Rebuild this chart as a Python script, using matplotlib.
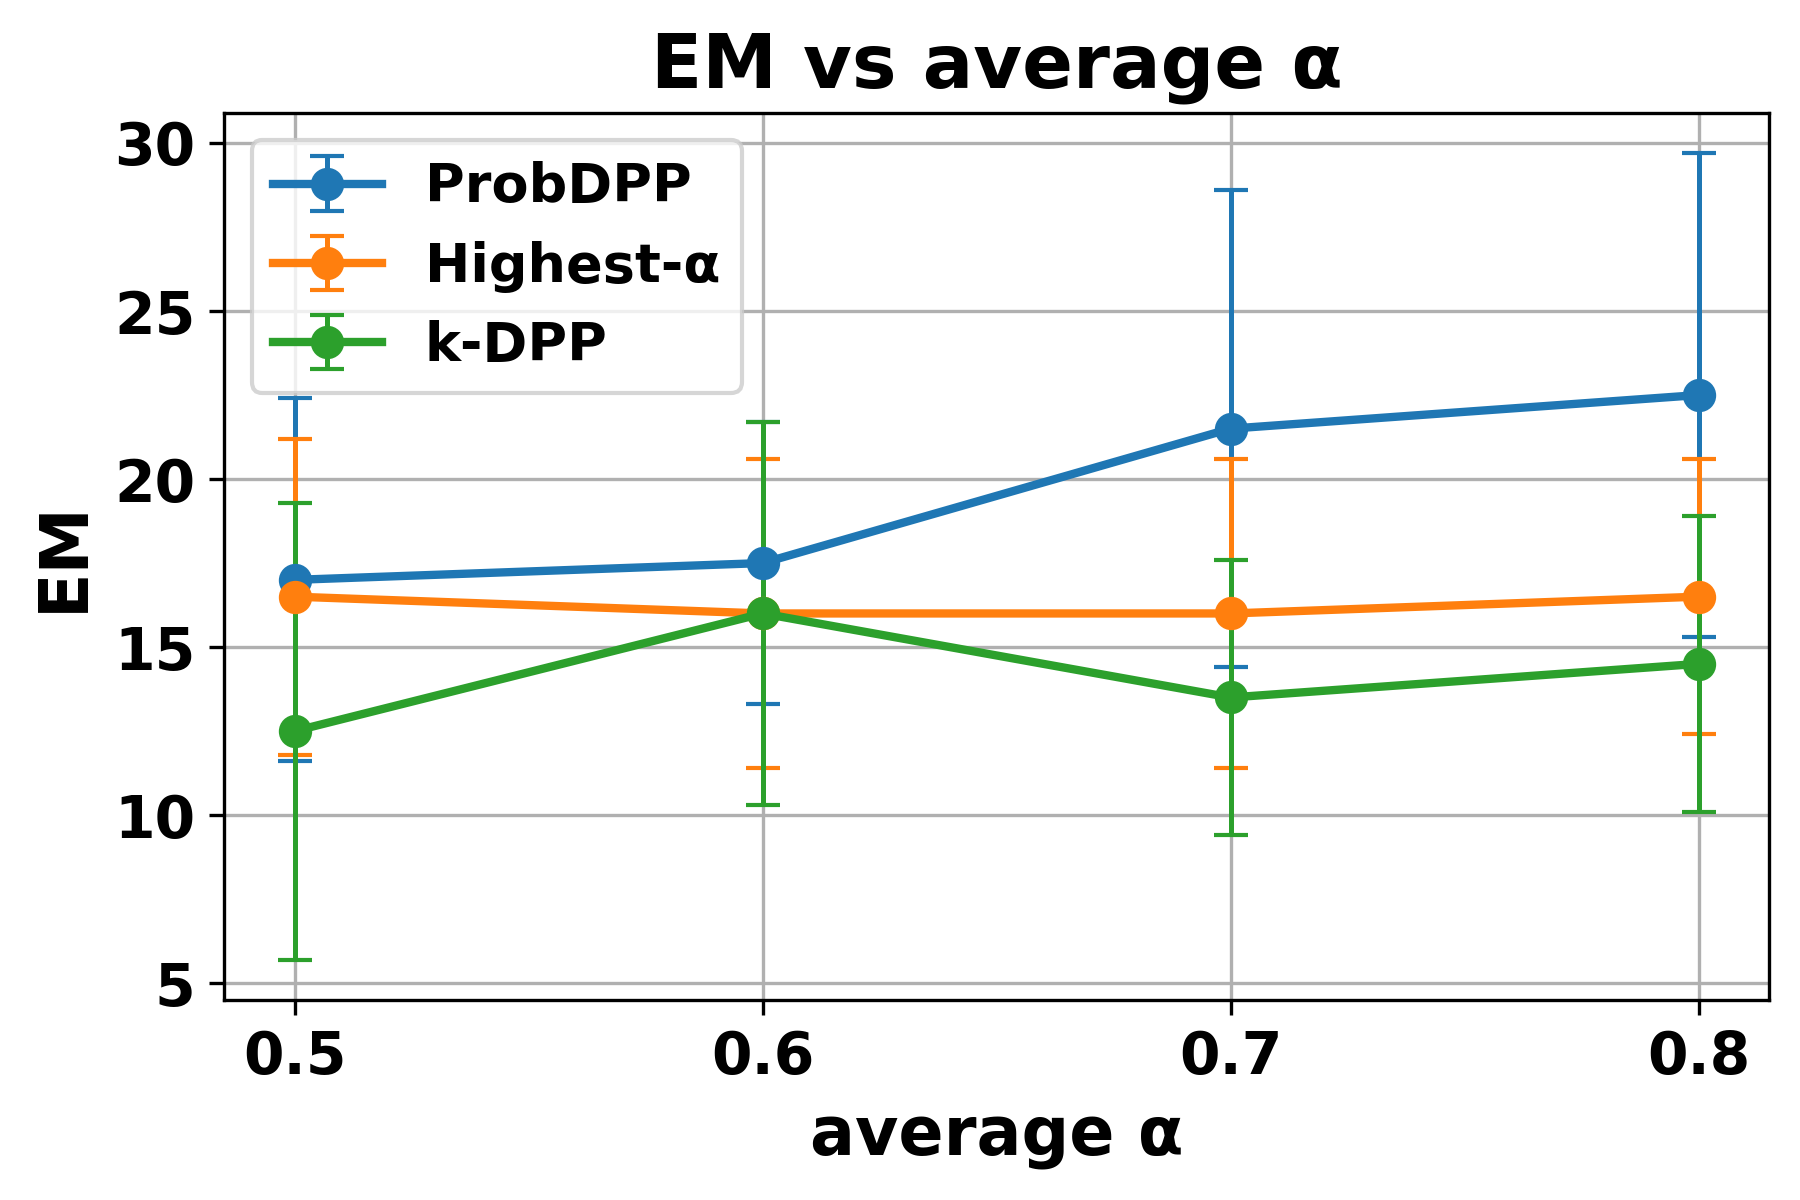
import matplotlib.pyplot as plt
import numpy as np

alphas = [0.5, 0.6, 0.7, 0.8]

probdpp_mean = [17.0, 17.5, 21.5, 22.5]
probdpp_err = [5.4, 4.2, 7.1, 7.2]

highest_mean = [16.5, 16.0, 16.0, 16.5]
highest_err = [4.7, 4.6, 4.6, 4.1]

kdpp_mean = [12.5, 16.0, 13.5, 14.5]
kdpp_err = [6.8, 5.7, 4.1, 4.4]

labels = ["ProbDPP", "Highest-α", "k-DPP"]

plt.rcParams["font.weight"] = "bold"
plt.rcParams["axes.labelweight"] = "bold"
plt.rcParams["axes.titleweight"] = "bold"

fig, ax = plt.subplots(figsize=(6, 4), dpi=300)

series = [
    (probdpp_mean, probdpp_err),
    (highest_mean, highest_err),
    (kdpp_mean, kdpp_err),
]
for (mean, err), label in zip(series, labels):
    ax.errorbar(
        alphas, mean, yerr=err, marker="o", markersize=7, linewidth=2,
        capsize=4, elinewidth=1.2, label=label,
    )

ax.set_title("EM vs average α", fontsize=18)
ax.set_xlabel("average α", fontsize=16)
ax.set_ylabel("EM", fontsize=16)
ax.set_xticks(alphas)
ax.set_yticks([5, 10, 15, 20, 25, 30])
ax.tick_params(labelsize=14)
ax.grid(True)
ax.legend(fontsize=13, loc="upper left")

plt.tight_layout(pad=0.75)
plt.savefig("out.png")
